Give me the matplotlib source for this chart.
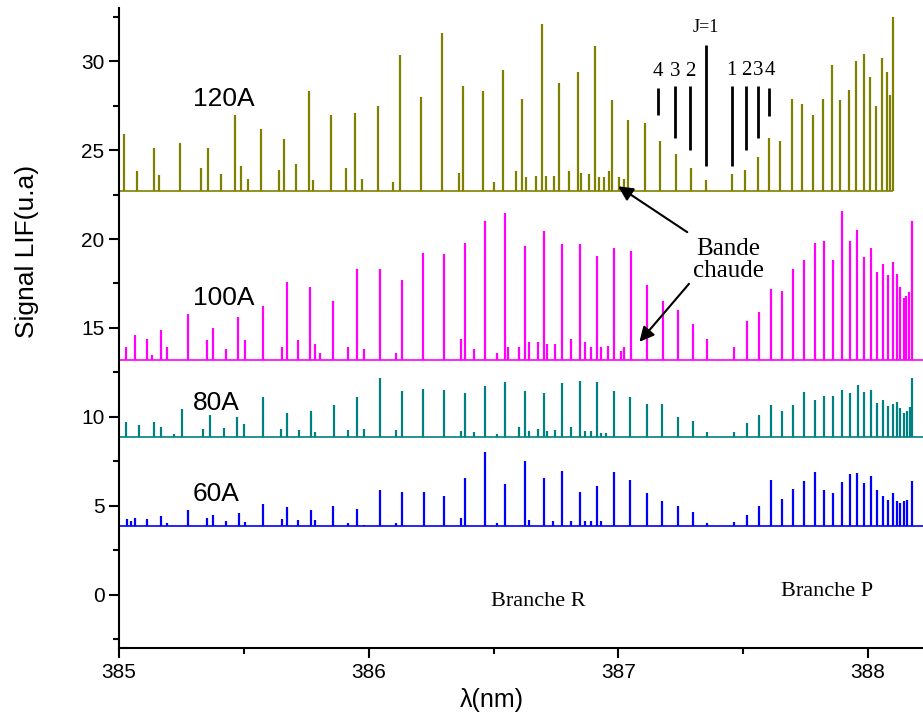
import matplotlib.pyplot as plt
from matplotlib.ticker import MultipleLocator

# 120A trace: peak positions (nm) and peak tops (u.a)
x120 = [385.02, 385.07, 385.14, 385.16, 385.245, 385.33, 385.355, 385.41, 385.465, 385.49,
        385.515, 385.57, 385.64, 385.66, 385.71, 385.76, 385.777, 385.85, 385.91, 385.945,
        385.972, 386.036, 386.096, 386.124, 386.209, 386.294, 386.363, 386.379, 386.459, 386.503,
        386.536, 386.59, 386.614, 386.63, 386.67, 386.693, 386.71, 386.743, 386.763, 386.803,
        386.837, 386.85, 386.883, 386.906, 386.924, 386.944, 386.964, 386.974, 387.004, 387.024,
        387.04, 387.107, 387.168, 387.23, 387.29, 387.35, 387.455, 387.507, 387.558, 387.604,
        387.649, 387.694, 387.737, 387.778, 387.818, 387.854, 387.888, 387.922, 387.952, 387.982,
        388.008, 388.032, 388.056, 388.076, 388.089, 388.10]
y120 = [25.9, 23.8, 25.1, 23.6, 25.4, 24.0, 25.1, 23.65, 26.95, 24.1,
        23.4, 26.2, 23.9, 25.65, 24.2, 28.3, 23.3, 26.95, 24.0, 27.06,
        23.4, 27.5, 23.2, 30.34, 28.0, 31.6, 23.7, 28.6, 28.3, 23.2,
        29.5, 23.8, 27.85, 23.5, 23.55, 32.1, 23.55, 23.55, 28.8, 23.8,
        29.4, 23.7, 23.65, 30.85, 23.5, 23.5, 23.8, 27.8, 23.5, 23.4,
        26.7, 26.5, 25.5, 24.8, 24.0, 23.3, 23.65, 23.9, 24.6, 25.7,
        25.5, 27.9, 27.6, 27.0, 27.85, 29.8, 27.8, 28.4, 30.0, 30.4,
        29.1, 27.5, 30.2, 29.4, 28.1, 32.5]

# 100A trace
x100 = [385.028, 385.064, 385.111, 385.131, 385.168, 385.192, 385.275, 385.351, 385.375, 385.43,
        385.478, 385.506, 385.578, 385.651, 385.673, 385.718, 385.766, 385.785, 385.806, 385.858,
        385.916, 385.953, 385.982, 386.044, 386.109, 386.133, 386.219, 386.30, 386.37, 386.386,
        386.42, 386.465, 386.514, 386.546, 386.557, 386.60, 386.624, 386.64, 386.676, 386.703,
        386.714, 386.746, 386.774, 386.81, 386.846, 386.866, 386.89, 386.914, 386.93, 386.957,
        386.984, 387.01, 387.024, 387.05, 387.115, 387.177, 387.238, 387.299, 387.355, 387.461,
        387.514, 387.564, 387.611, 387.655, 387.699, 387.743, 387.787, 387.825, 387.861, 387.894,
        387.928, 387.956, 387.985, 388.012, 388.036, 388.058, 388.078, 388.098, 388.114, 388.129,
        388.142, 388.152, 388.162, 388.176]
y100 = [13.95, 14.6, 14.4, 13.5, 14.9, 13.9, 15.76, 14.3, 15.0, 13.8,
        15.6, 14.3, 16.25, 13.95, 17.6, 14.3, 17.3, 14.1, 13.6, 16.5,
        13.95, 18.3, 13.8, 18.3, 13.6, 17.7, 19.2, 19.15, 14.4, 19.8,
        13.8, 21.0, 13.6, 21.45, 13.9, 13.9, 19.6, 14.2, 14.2, 20.45,
        14.1, 14.1, 19.7, 14.4, 19.7, 14.2, 13.9, 19.04, 13.9, 14.0,
        19.5, 13.7, 13.9, 19.3, 17.4, 16.5, 16.0, 15.2, 14.4, 13.9,
        15.4, 15.9, 17.2, 17.1, 18.3, 18.8, 19.8, 19.9, 18.8, 21.6,
        19.9, 20.5, 19.0, 19.5, 18.15, 18.6, 17.97, 18.7, 18.06, 17.3,
        16.7, 16.8, 17.0, 21.0]

# 80A trace
x80 = [385.028, 385.081, 385.141, 385.168, 385.219, 385.252, 385.338, 385.364, 385.422, 385.473,
       385.502, 385.577, 385.649, 385.673, 385.722, 385.769, 385.785, 385.86, 385.916, 385.953,
       385.982, 386.044, 386.11, 386.133, 386.219, 386.302, 386.37, 386.386, 386.42, 386.465,
       386.514, 386.546, 386.60, 386.624, 386.64, 386.676, 386.70, 386.714, 386.746, 386.774,
       386.81, 386.845, 386.866, 386.89, 386.913, 386.93, 386.95, 386.984, 387.048, 387.113,
       387.175, 387.238, 387.299, 387.355, 387.461, 387.514, 387.564, 387.611, 387.655, 387.699,
       387.743, 387.787, 387.825, 387.861, 387.894, 387.928, 387.96, 387.985, 388.012, 388.036,
       388.058, 388.078, 388.098, 388.114, 388.129, 388.142, 388.156, 388.166, 388.176]
y80 = [9.73, 9.53, 9.71, 9.43, 9.05, 10.43, 9.3, 10.09, 9.36, 10.0,
       9.62, 11.1, 9.3, 10.21, 9.25, 10.3, 9.12, 10.66, 9.25, 11.13,
       9.3, 12.19, 9.25, 11.43, 11.56, 11.52, 9.2, 11.34, 9.12, 11.71,
       9.06, 11.98, 9.43, 11.47, 9.2, 9.3, 11.34, 9.2, 9.25, 11.9,
       9.43, 12.03, 9.2, 9.2, 11.94, 9.1, 9.1, 11.47, 11.13, 10.71,
       10.71, 10.0, 9.77, 9.17, 9.12, 9.64, 10.09, 10.68, 10.34, 10.68,
       11.41, 10.94, 11.15, 11.19, 11.51, 11.34, 11.79, 11.41, 11.51, 10.77,
       10.94, 10.62, 10.71, 10.85, 10.47, 10.24, 10.34, 10.56, 12.19]

# 60A trace
x60 = [385.032, 385.048, 385.065, 385.111, 385.168, 385.192, 385.275, 385.351, 385.375, 385.43,
       385.479, 385.506, 385.578, 385.651, 385.673, 385.718, 385.769, 385.785, 385.858, 385.916,
       385.952, 385.982, 386.044, 386.11, 386.133, 386.22, 386.302, 386.37, 386.387, 386.466,
       386.514, 386.547, 386.626, 386.64, 386.70, 386.74, 386.774, 386.81, 386.845, 386.866,
       386.89, 386.914, 386.93, 386.984, 387.048, 387.113, 387.175, 387.238, 387.299, 387.355,
       387.462, 387.514, 387.564, 387.611, 387.655, 387.699, 387.745, 387.787, 387.825, 387.861,
       387.896, 387.928, 387.956, 387.985, 388.012, 388.036, 388.058, 388.078, 388.098, 388.114,
       388.129, 388.142, 388.156, 388.176]
y60 = [4.25, 4.12, 4.31, 4.25, 4.40, 4.03, 4.78, 4.31, 4.5, 4.16,
       4.6, 4.07, 5.07, 4.25, 4.92, 4.18, 4.74, 4.22, 4.97, 4.03,
       4.84, 3.94, 5.88, 4.03, 5.76, 5.76, 5.54, 4.31, 6.57, 8.0,
       4.03, 6.2, 7.5, 4.22, 6.54, 4.12, 6.95, 4.12, 5.76, 4.12,
       4.12, 6.1, 4.12, 6.91, 6.42, 5.69, 5.25, 4.97, 4.63, 4.03,
       4.07, 4.5, 5.0, 6.44, 5.38, 5.95, 6.38, 6.89, 5.91, 5.69,
       6.33, 6.76, 6.85, 6.29, 6.67, 5.91, 5.57, 5.35, 5.72, 5.25,
       5.16, 5.25, 5.35, 6.38]

traces = [
    ("120A", x120, y120, 22.7, 388.10, "#808000", 27.85),
    ("100A", x100, y100, 13.2, 388.23, "#ff00ff", 16.67),
    ("80A", x80, y80, 8.87, 388.23, "#008080", 10.8),
    ("60A", x60, y60, 3.84, 388.23, "#0000ff", 5.65),
]

# rotational line markers (J) : R side and P side
jr_x = [387.16, 387.228, 387.288]
jr_top = [28.5, 28.6, 28.6]
jr_bot = [27.0, 25.7, 25.0]
jr_lab = ["4", "3", "2"]
jp_x = [387.453, 387.511, 387.558, 387.605]
jp_top = [28.6, 28.6, 28.6, 28.5]
jp_bot = [24.1, 25.0, 25.7, 26.9]
jp_lab = ["1", "2", "3", "4"]
j1_x = 387.35

fig = plt.figure(figsize=(9.23, 7.16), dpi=100)
ax = fig.add_axes([0.129, 0.095, 0.871, 0.894])

for name, xs, ys, base, xend, col, ylab in traces:
    ax.hlines(base, 385.005, xend, color=col, lw=1.2)
    ax.vlines(xs, base, ys, color=col, lw=1.6)
    ax.text(385.296, ylab, name, fontsize=19, family="Liberation Sans",
            ha="left", va="center")

serif = "Liberation Serif"
ax.vlines(jr_x, jr_bot, jr_top, color="k", lw=2)
ax.vlines(jp_x, jp_bot, jp_top, color="k", lw=2)
ax.vlines(j1_x, 24.1, 30.9, color="k", lw=2)
for xx, lab in zip(jr_x, jr_lab):
    ax.text(xx, 29.4, lab, fontsize=15, family=serif, ha="center", va="center")
for xx, lab in zip(jp_x, jp_lab):
    ax.text(xx, 29.5, lab, fontsize=15, family=serif, ha="center", va="center")
ax.text(j1_x, 31.9, "J=1", fontsize=13, family=serif, ha="center", va="center")

ax.text(387.44, 18.8, "Bande\nchaude", fontsize=18, family=serif,
        ha="center", va="center", linespacing=1.0)
arrow = dict(arrowstyle="-|>", color="k", lw=1.5, mutation_scale=22)
ax.annotate("", xy=(386.99, 23.05), xytext=(387.285, 20.3), arrowprops=arrow)
ax.annotate("", xy=(387.077, 14.1), xytext=(387.29, 17.6), arrowprops=arrow)

ax.text(386.678, -0.4, "Branche R", fontsize=16, family=serif, ha="center", va="center")
ax.text(387.835, 0.2, "Branche P", fontsize=16, family=serif, ha="center", va="center")

ax.set_xlim(385.0, 388.22)
ax.set_ylim(-3, 33)
ax.xaxis.set_major_locator(MultipleLocator(1))
ax.xaxis.set_minor_locator(MultipleLocator(0.5))
ax.yaxis.set_major_locator(MultipleLocator(5))
ax.yaxis.set_minor_locator(MultipleLocator(2.5))
ax.tick_params(which="both", direction="out", width=1.5, labelsize=15)
ax.tick_params(which="major", length=7)
ax.tick_params(which="minor", length=4)
for lab in ax.get_xticklabels() + ax.get_yticklabels():
    lab.set_family("Liberation Sans")
ax.spines["top"].set_visible(False)
ax.spines["right"].set_visible(False)
ax.spines["left"].set_linewidth(1.5)
ax.spines["bottom"].set_linewidth(1.5)

ax.set_xlabel("λ(nm)", fontsize=18, family="Liberation Sans")
ax.set_ylabel("Signal LIF(u.a)", fontsize=19, family="Liberation Sans")
ax.xaxis.set_label_coords(0.464, -0.062)
ax.yaxis.set_label_coords(-0.1, 0.62)

fig.savefig("out.png", dpi=100)
